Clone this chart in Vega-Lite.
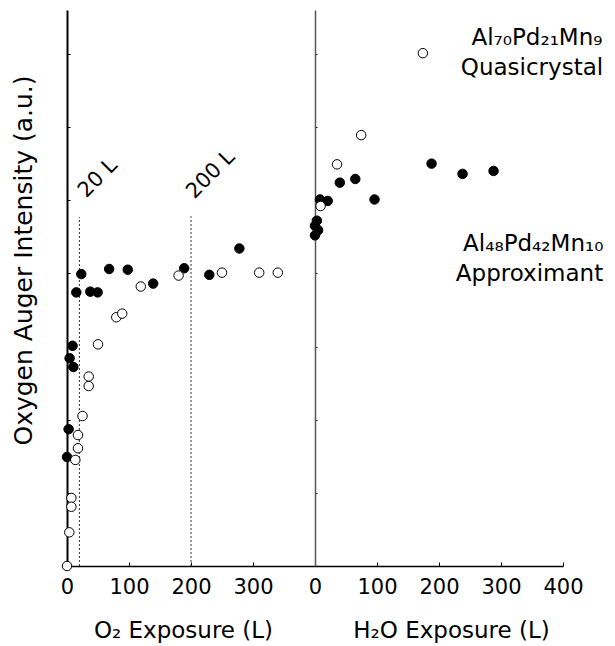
{
  "$schema": "https://vega.github.io/schema/vega-lite/v6.json",
  "width": 496,
  "height": 556,
  "autosize": {"type": "none"},
  "padding": {"left": 67, "top": 10, "right": 52, "bottom": 80},
  "background": "white",
  "config": {
    "view": {"stroke": null},
    "font": "DejaVu Sans",
    "axis": {
      "grid": false,
      "labelFont": "DejaVu Sans",
      "titleFont": "DejaVu Sans",
      "titleFontWeight": "normal",
      "domainColor": "black",
      "tickColor": "black",
      "labelColor": "black",
      "titleColor": "black"
    }
  },
  "datasets": {
    "o2": [
      {"sample": "Approximant", "exposure": 15, "intensity": 3.74},
      {"sample": "Approximant", "exposure": 23, "intensity": 3.99},
      {"sample": "Approximant", "exposure": 37.6, "intensity": 3.75},
      {"sample": "Approximant", "exposure": 49.4, "intensity": 3.74},
      {"sample": "Approximant", "exposure": 68, "intensity": 4.06},
      {"sample": "Approximant", "exposure": 98, "intensity": 4.05},
      {"sample": "Approximant", "exposure": 139, "intensity": 3.86},
      {"sample": "Approximant", "exposure": 189, "intensity": 4.07},
      {"sample": "Approximant", "exposure": 229.5, "intensity": 3.98},
      {"sample": "Approximant", "exposure": 278, "intensity": 4.34},
      {"sample": "Approximant", "exposure": 9, "intensity": 3.01},
      {"sample": "Approximant", "exposure": 4.2, "intensity": 2.84},
      {"sample": "Approximant", "exposure": 10.2, "intensity": 2.72},
      {"sample": "Approximant", "exposure": 2.6, "intensity": 1.87},
      {"sample": "Approximant", "exposure": 0, "intensity": 1.49},
      {"sample": "Quasicrystal", "exposure": 119, "intensity": 3.82},
      {"sample": "Quasicrystal", "exposure": 180, "intensity": 3.97},
      {"sample": "Quasicrystal", "exposure": 250, "intensity": 4.01},
      {"sample": "Quasicrystal", "exposure": 310, "intensity": 4.01},
      {"sample": "Quasicrystal", "exposure": 340, "intensity": 4.01},
      {"sample": "Quasicrystal", "exposure": 79.5, "intensity": 3.4},
      {"sample": "Quasicrystal", "exposure": 89, "intensity": 3.45},
      {"sample": "Quasicrystal", "exposure": 50, "intensity": 3.03},
      {"sample": "Quasicrystal", "exposure": 35, "intensity": 2.59},
      {"sample": "Quasicrystal", "exposure": 35, "intensity": 2.46},
      {"sample": "Quasicrystal", "exposure": 25, "intensity": 2.05},
      {"sample": "Quasicrystal", "exposure": 17.7, "intensity": 1.79},
      {"sample": "Quasicrystal", "exposure": 17.7, "intensity": 1.61},
      {"sample": "Quasicrystal", "exposure": 13.4, "intensity": 1.45},
      {"sample": "Quasicrystal", "exposure": 7, "intensity": 0.93},
      {"sample": "Quasicrystal", "exposure": 7, "intensity": 0.81},
      {"sample": "Quasicrystal", "exposure": 3.7, "intensity": 0.46},
      {"sample": "Quasicrystal", "exposure": 0, "intensity": 0}
    ],
    "h2o": [
      {"sample": "Approximant", "exposure": 3, "intensity": 4.72},
      {"sample": "Approximant", "exposure": 0, "intensity": 4.65},
      {"sample": "Approximant", "exposure": 5, "intensity": 4.59},
      {"sample": "Approximant", "exposure": 0, "intensity": 4.52},
      {"sample": "Approximant", "exposure": 8, "intensity": 5.01},
      {"sample": "Approximant", "exposure": 20.5, "intensity": 4.99},
      {"sample": "Approximant", "exposure": 40, "intensity": 5.24},
      {"sample": "Approximant", "exposure": 65, "intensity": 5.29},
      {"sample": "Approximant", "exposure": 96, "intensity": 5.01},
      {"sample": "Approximant", "exposure": 188, "intensity": 5.5},
      {"sample": "Approximant", "exposure": 238, "intensity": 5.36},
      {"sample": "Approximant", "exposure": 288, "intensity": 5.4},
      {"sample": "Quasicrystal", "exposure": 9, "intensity": 4.92},
      {"sample": "Quasicrystal", "exposure": 35.5, "intensity": 5.49},
      {"sample": "Quasicrystal", "exposure": 74.5, "intensity": 5.89},
      {"sample": "Quasicrystal", "exposure": 174, "intensity": 7.01}
    ]
  },
  "layer": [
    {
      "layer": [
        {
          "data": {"values": [{}]},
          "mark": {"type": "rule", "strokeDash": [2, 2], "color": "#333", "strokeWidth": 1},
          "encoding": {
            "x": {"datum": 20, "type": "quantitative"},
            "y": {"datum": 0, "type": "quantitative"},
            "y2": {"datum": 4.77}
          }
        },
        {
          "data": {"values": [{}]},
          "mark": {"type": "rule", "strokeDash": [2, 2], "color": "#333", "strokeWidth": 1},
          "encoding": {
            "x": {"datum": 200, "type": "quantitative"},
            "y": {"datum": 0, "type": "quantitative"},
            "y2": {"datum": 4.78}
          }
        },
        {
          "data": {"values": [{}]},
          "mark": {"type": "text", "text": "20 L", "angle": 315, "fontSize": 21, "align": "center", "baseline": "middle", "color": "black"},
          "encoding": {
            "x": {"datum": 50, "type": "quantitative"},
            "y": {"datum": 5.3, "type": "quantitative"}
          }
        },
        {
          "data": {"values": [{}]},
          "mark": {"type": "text", "text": "200 L", "angle": 315, "fontSize": 21, "align": "center", "baseline": "middle", "color": "black"},
          "encoding": {
            "x": {"datum": 232, "type": "quantitative"},
            "y": {"datum": 5.35, "type": "quantitative"}
          }
        },
        {
          "data": {"name": "o2"},
          "mark": {"type": "circle", "stroke": "black", "strokeWidth": 1, "opacity": 1, "size": 90},
          "encoding": {
            "x": {
              "field": "exposure",
              "type": "quantitative",
              "scale": {"domain": [0, 800], "nice": false, "zero": false},
              "axis": {
                "orient": "bottom",
                "values": [0, 50, 100, 150, 200, 250, 300, 350, 400, 450, 500, 550, 600, 650, 700, 750, 800],
                "labelExpr": "datum.value % 100 != 0 ? '' : (datum.value == 400 ? '0' : (datum.value < 400 ? datum.label : format(datum.value - 400, 'd')))",
                "labelOverlap": false,
                "labelFlush": false,
                "labelBound": false,
                "tickSize": -4,
                "labelPadding": 14,
                "labelFontSize": 21,
                "domainWidth": 1.5,
                "tickWidth": 1,
                "title": "O₂ Exposure (L)",
                "titleFontSize": 23,
                "titleX": 116,
                "titleY": 71,
                "titleAlign": "center",
                "titleBaseline": "alphabetic"
              }
            },
            "y": {
              "field": "intensity",
              "type": "quantitative",
              "scale": {"domain": [0, 7.6], "nice": false, "zero": false},
              "axis": {
                "orient": "left",
                "values": [0, 0.25, 0.5, 0.75, 1, 1.25, 1.5, 1.75, 2, 2.25, 2.5, 2.75, 3, 3.25, 3.5, 3.75, 4, 4.25, 4.5, 4.75, 5, 5.25, 5.5, 5.75, 6, 6.25, 6.5, 6.75, 7, 7.25, 7.5],
                "labels": false,
                "tickSize": -3,
                "domainWidth": 2,
                "title": "Oxygen Auger Intensity (a.u.)",
                "titleFontSize": 25,
                "titleAngle": 270,
                "titleX": -36,
                "titleY": 250,
                "titleAlign": "center",
                "titleBaseline": "alphabetic"
              }
            },
            "fill": {
              "field": "sample",
              "type": "nominal",
              "scale": {"domain": ["Approximant", "Quasicrystal"], "range": ["black", "white"]},
              "legend": null
            }
          }
        }
      ]
    },
    {
      "layer": [
        {
          "data": {"name": "h2o"},
          "mark": {"type": "circle", "stroke": "black", "strokeWidth": 1, "opacity": 1, "size": 90},
          "encoding": {
            "x": {
              "field": "exposure",
              "type": "quantitative",
              "scale": {"domain": [-400, 400], "nice": false, "zero": false},
              "axis": {
                "orient": "bottom",
                "domain": false,
                "ticks": false,
                "labels": false,
                "title": "H₂O Exposure (L)",
                "titleFontSize": 23,
                "titleX": 384,
                "titleY": 71,
                "titleAlign": "center",
                "titleBaseline": "alphabetic"
              }
            },
            "y": {
              "field": "intensity",
              "type": "quantitative",
              "scale": {"domain": [0, 7.6], "nice": false, "zero": false},
              "axis": {
                "orient": "right",
                "offset": -248,
                "values": [1, 2, 3, 4, 5, 6, 7],
                "labels": false,
                "tickSize": 2,
                "domainColor": "#555",
                "domainWidth": 1.5,
                "title": null
              }
            },
            "fill": {
              "field": "sample",
              "type": "nominal",
              "scale": {"domain": ["Approximant", "Quasicrystal"], "range": ["black", "white"]},
              "legend": null
            }
          }
        },
        {
          "data": {"values": [{}]},
          "mark": {"type": "text", "text": "Al₇₀Pd₂₁Mn₉", "fontSize": 23, "align": "center", "baseline": "alphabetic", "color": "black"},
          "encoding": {
            "x": {"datum": 358, "type": "quantitative"},
            "y": {"datum": 7.12, "type": "quantitative"}
          }
        },
        {
          "data": {"values": [{}]},
          "mark": {"type": "text", "text": "Quasicrystal", "fontSize": 23, "align": "center", "baseline": "alphabetic", "color": "black"},
          "encoding": {
            "x": {"datum": 350, "type": "quantitative"},
            "y": {"datum": 6.711, "type": "quantitative"}
          }
        },
        {
          "data": {"values": [{}]},
          "mark": {"type": "text", "text": "Al₄₈Pd₄₂Mn₁₀", "fontSize": 23, "align": "center", "baseline": "alphabetic", "color": "black"},
          "encoding": {
            "x": {"datum": 352, "type": "quantitative"},
            "y": {"datum": 4.3, "type": "quantitative"}
          }
        },
        {
          "data": {"values": [{}]},
          "mark": {"type": "text", "text": "Approximant", "fontSize": 23, "align": "center", "baseline": "alphabetic", "color": "black"},
          "encoding": {
            "x": {"datum": 346, "type": "quantitative"},
            "y": {"datum": 3.9, "type": "quantitative"}
          }
        }
      ]
    }
  ],
  "resolve": {"scale": {"x": "independent"}, "axis": {"x": "independent", "y": "independent"}}
}
